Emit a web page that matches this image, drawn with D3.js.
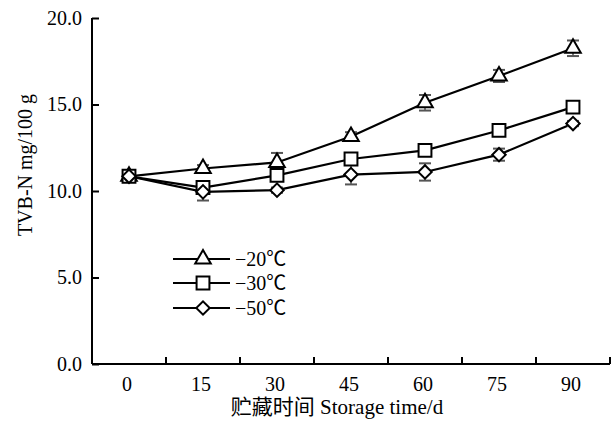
<!DOCTYPE html>
<html><head><meta charset="utf-8">
<script src="https://cdn.jsdelivr.net/npm/d3@7"></script>
<style>body{margin:0;background:#fff}svg{display:block}text{font-family:"Liberation Serif","Times New Roman","Noto Sans CJK SC",serif;fill:#000}</style>
</head><body>
<script>
const days = ["0","15","30","45","60","75","90"];
const seriesNames = ["\u221220\u2103","\u221230\u2103","\u221250\u2103"];
const v20 = [10.85, 11.3, 11.65, 13.15, 15.1, 16.65, 18.25];
const v30 = [10.85, 10.2, 10.9, 11.85, 12.35, 13.5, 14.85];
const v50 = [10.85, 9.95, 10.05, 10.95, 11.1, 12.1, 13.9];
const e20 = [0.1, 0.2, 0.55, 0.25, 0.45, 0.35, 0.45];
const e30 = [0.1, 0.3, 0.15, 0.15, 0.15, 0.15, 0.15];
const e50 = [0.1, 0.5, 0.15, 0.57, 0.5, 0.35, 0.15];
const yTicks = [0, 5, 10, 15, 20];
const markers = ["triangle","square","diamond"];

const W = 612, H = 428;
const svg = d3.select("body").append("svg").attr("width", W).attr("height", H);
const mL = 92, mR = 610, mT = 18, mB = 364;
const x = d3.scaleBand().domain(days).range([mL, mR]).paddingInner(0).paddingOuter(0);
const y = d3.scaleLinear().domain([0, 20]).range([mB, mT]);

// y axis
const ya = svg.append("g").attr("transform", `translate(${mL},0)`)
  .call(d3.axisLeft(y).tickValues(yTicks).tickSize(-7).tickPadding(10).tickFormat(d3.format(".1f")));
ya.selectAll("path,line").attr("stroke","#000").attr("stroke-width",2);
ya.select(".domain").attr("d", `M0,${mT}V${mB}`);
ya.selectAll("text").style("font-size","20px").style("font-family",null);

// x axis
const xTickPos = days.map(d => x(d) + x.bandwidth());
const xa = svg.append("g").attr("transform", `translate(0,${mB})`);
xa.append("line").attr("x1", mL).attr("x2", mR).attr("stroke","#000").attr("stroke-width",2);
xa.selectAll("line.t").data(xTickPos).join("line").attr("class","t")
  .attr("x1", d=>d).attr("x2", d=>d).attr("y1", 0).attr("y2", -7).attr("stroke","#000").attr("stroke-width",2);
xa.selectAll("text").data(days).join("text")
  .attr("x", d => x(d) + x.bandwidth()/2 - 2).attr("y", 27).attr("text-anchor","middle").style("font-size","20px").text(d=>d);

svg.append("text").attr("x", 337).attr("y", 414).attr("text-anchor","middle").style("font-size","21px")
  .text("贮藏时间 Storage time/d");
svg.append("text").attr("transform","translate(32,165) rotate(-90)").attr("text-anchor","middle").style("font-size","20px")
  .text("TVB-N mg/100 g");

const sym = {
  triangle: d3.symbol().type(d3.symbolTriangle).size(105),
  square: d3.symbol().type(d3.symbolSquare).size(165),
  diamond: d3.symbol().type(d3.symbolSquare).size(90)
};
const series = [[v20,e20],[v30,e30],[v50,e50]];
const cx = d => x(d) + x.bandwidth()/2;
const line = d3.line().x((v,i)=>cx(days[i])).y(v=>y(v));

series.forEach(([vals,errs]) => {
  svg.append("path").attr("d", line(vals)).attr("fill","none").attr("stroke","#000").attr("stroke-width",2.2);
});
series.forEach(([vals,errs]) => {
  const g = svg.append("g");
  vals.forEach((v,i) => {
    const X = cx(days[i]);
    g.append("line").attr("x1",X).attr("x2",X).attr("y1",y(v-errs[i])).attr("y2",y(v+errs[i])).attr("stroke","#555").attr("stroke-width",1.5);
    [v-errs[i], v+errs[i]].forEach(w => g.append("line").attr("x1",X-6).attr("x2",X+6).attr("y1",y(w)).attr("y2",y(w)).attr("stroke","#555").attr("stroke-width",2));
  });
});
const rot = k => markers[k]==="diamond" ? " rotate(45)" : "";
series.forEach(([vals,errs], k) => {
  vals.forEach((v,i) => {
    svg.append("path").attr("d", sym[markers[k]]())
      .attr("transform", `translate(${cx(days[i])},${y(v)})${rot(k)}`)
      .attr("fill","#fff").attr("stroke","#000").attr("stroke-width",2);
  });
});

// legend
const ly = [259, 283, 308];
seriesNames.forEach((n,k) => {
  svg.append("line").attr("x1",173).attr("x2",230).attr("y1",ly[k]).attr("y2",ly[k]).attr("stroke","#000").attr("stroke-width",2.2);
  svg.append("path").attr("d", sym[markers[k]]())
    .attr("transform", `translate(203,${ly[k]})${rot(k)}`)
    .attr("fill","#fff").attr("stroke","#000").attr("stroke-width",2);
  svg.append("text").attr("x",235).attr("y",ly[k]+7).style("font-size","20px").text(n);
});
</script>
</body></html>
